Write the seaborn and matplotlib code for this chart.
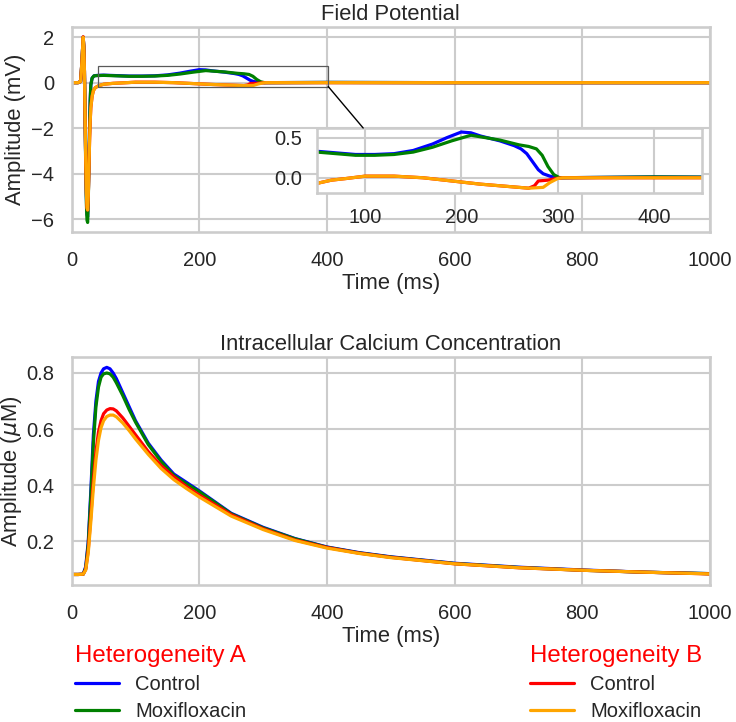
import matplotlib
matplotlib.use("Agg")
import matplotlib.pyplot as plt
from matplotlib.patches import Rectangle, ConnectionPatch
import numpy as np
import seaborn as sns

# ---- field potential traces (ms, mV) ----
fp_t_a = [0, 10, 14, 16, 18, 19, 20, 21, 22, 23, 24, 25, 26, 27, 28, 29, 30, 32, 35, 40,
          50, 70, 90, 110, 130, 150, 170, 185, 200, 210, 220, 240, 255, 262, 268, 274,
          280, 285, 292, 300, 400, 600, 800, 1000]
fp_blue = [0, 0, 0.05, 0.9, 2.0, 1.6, 0.5, -1.5, -3.5, -5.0, -5.8, -5.9, -5.0, -3.5, -2.0, -0.8,
           -0.1, 0.2, 0.3, 0.32, 0.33, 0.31, 0.29, 0.29, 0.3, 0.34, 0.42, 0.5, 0.57, 0.56,
           0.52, 0.46, 0.4, 0.36, 0.3, 0.2, 0.1, 0.05, 0.02, 0.0, 0.01, 0.0, 0.0, 0.0]
fp_t_g = [0, 10, 14, 16, 18, 19, 20, 21, 22, 23, 24, 25, 26, 27, 28, 29, 30, 32, 35, 40,
          50, 70, 90, 110, 130, 150, 170, 190, 210, 220, 240, 260, 270, 278, 284, 290,
          296, 302, 400, 600, 800, 1000]
fp_green = [0, 0, 0.05, 0.9, 2.0, 1.6, 0.5, -1.6, -3.7, -5.3, -6.05, -6.15, -5.2, -3.6, -2.0,
            -0.8, -0.1, 0.2, 0.3, 0.31, 0.32, 0.3, 0.28, 0.28, 0.29, 0.32, 0.38, 0.46, 0.53,
            0.51, 0.47, 0.41, 0.39, 0.36, 0.28, 0.14, 0.04, 0.0, 0.01, 0.0, 0.0, 0.0]
fp_t_b = [0, 10, 14, 16, 18, 19, 20, 21, 22, 23, 24, 25, 26, 27, 28, 29, 30, 32, 34, 37,
          42, 50, 65, 80, 100, 130, 160, 190, 220, 250, 270, 276, 280, 290, 298, 305,
          400, 600, 800, 1000]
fp_red = [0, 0, 0.05, 0.9, 2.02, 1.6, 0.5, -1.5, -3.4, -4.8, -5.5, -5.6, -5.0, -3.8, -2.6,
          -1.7, -1.1, -0.6, -0.35, -0.22, -0.14, -0.07, -0.03, -0.01, 0.02, 0.02, 0.0,
          -0.04, -0.08, -0.11, -0.13, -0.1, -0.04, -0.03, -0.01, 0.0, 0.0, 0.0, 0.0, 0.0]
fp_t_o = [0, 10, 14, 16, 18, 19, 20, 21, 22, 23, 24, 25, 26, 27, 28, 29, 30, 32, 34, 37,
          42, 50, 65, 80, 100, 130, 160, 190, 220, 250, 270, 285, 292, 300, 305,
          400, 600, 800, 1000]
fp_orange = [0, 0, 0.05, 0.9, 2.0, 1.6, 0.5, -1.5, -3.4, -4.8, -5.5, -5.6, -5.0, -3.8, -2.6,
             -1.7, -1.1, -0.6, -0.35, -0.22, -0.14, -0.07, -0.03, -0.01, 0.02, 0.02, 0.0,
             -0.04, -0.08, -0.11, -0.13, -0.12, -0.06, -0.01, 0.0, 0.0, 0.0, 0.0, 0.0]

# ---- calcium transients (ms, uM) ----
ca_t = [0, 10, 18, 22, 26, 30, 34, 38, 42, 46, 50, 55, 60, 65, 70, 80, 90, 100, 120, 140,
        160, 180, 200, 250, 300, 350, 400, 450, 500, 600, 700, 800, 900, 1000]
ca_blue = [0.082, 0.082, 0.083, 0.11, 0.2, 0.38, 0.58, 0.7, 0.77, 0.8, 0.815, 0.82, 0.815,
           0.8, 0.78, 0.73, 0.68, 0.63, 0.55, 0.49, 0.44, 0.41, 0.38, 0.3, 0.25, 0.21, 0.18,
           0.16, 0.145, 0.122, 0.108, 0.098, 0.09, 0.085]
ca_green = [0.082, 0.082, 0.083, 0.105, 0.19, 0.36, 0.55, 0.68, 0.75, 0.785, 0.797, 0.8,
            0.797, 0.785, 0.765, 0.72, 0.67, 0.625, 0.545, 0.485, 0.435, 0.405, 0.377, 0.298,
            0.248, 0.209, 0.179, 0.159, 0.144, 0.121, 0.107, 0.097, 0.09, 0.085]
ca_red = [0.082, 0.082, 0.083, 0.1, 0.17, 0.29, 0.42, 0.52, 0.59, 0.63, 0.655, 0.668, 0.673,
          0.672, 0.665, 0.64, 0.61, 0.58, 0.52, 0.47, 0.43, 0.395, 0.365, 0.295, 0.245,
          0.205, 0.178, 0.158, 0.143, 0.12, 0.106, 0.097, 0.09, 0.084]
ca_orange = [0.082, 0.082, 0.083, 0.098, 0.16, 0.27, 0.39, 0.49, 0.56, 0.605, 0.63, 0.645,
             0.65, 0.65, 0.644, 0.622, 0.595, 0.565, 0.51, 0.46, 0.42, 0.388, 0.358, 0.29,
             0.242, 0.203, 0.176, 0.157, 0.142, 0.12, 0.106, 0.097, 0.09, 0.084]

labels = ["Control", "Moxifloxacin"]

sns.set_theme(context="talk", style="whitegrid", font_scale=0.88)
plt.rcParams["font.family"] = ["Liberation Sans", "DejaVu Sans"]

fig = plt.figure(figsize=(7.36, 7.22), dpi=100)
ax1 = fig.add_axes([0.0974, 0.679, 0.867, 0.283])
ax2 = fig.add_axes([0.0974, 0.19, 0.867, 0.3155])
axin = fig.add_axes([0.4307, 0.7327, 0.523, 0.09])

fp_series = [(fp_t_a, fp_blue, "blue"), (fp_t_g, fp_green, "green"),
             (fp_t_b, fp_red, "red"), (fp_t_o, fp_orange, "orange")]
ca_series = [(ca_blue, "blue"), (ca_green, "green"), (ca_red, "red"), (ca_orange, "orange")]

lw = 2.3
for t, v, c in fp_series:
    sns.lineplot(x=t, y=v, color=c, linewidth=lw, ax=ax1)
    sns.lineplot(x=t, y=v, color=c, linewidth=lw, ax=axin)

handles = []
for v, c in ca_series:
    sns.lineplot(x=ca_t, y=v, color=c, linewidth=lw, ax=ax2)
    handles.append(ax2.lines[-1])

ax1.set_xlim(0, 1000)
ax2.set_xlim(0, 1000)
ax1.set_title("Field Potential", pad=5)
ax2.set_title("Intracellular Calcium Concentration", pad=5)
for ax in (ax1, ax2):
    ax.set_xlabel("Time (ms)", labelpad=2)
    ax.set_xticks([0, 200, 400, 600, 800, 1000])
    ax.tick_params(axis="x", pad=5)
ax1.set_ylabel("Amplitude (mV)", labelpad=4)
ax2.set_ylabel(r"Amplitude ($\mu$M)", labelpad=2)
ax1.set_yticks([-6, -4, -2, 0, 2])
ax2.set_yticks([0.2, 0.4, 0.6, 0.8])

# inset
axin.set_xlim(50, 450)
axin.set_ylim(-0.19, 0.62)
axin.set_xticks([100, 200, 300, 400])
axin.set_yticks([0.0, 0.5])
axin.set_yticklabels(["0.0", "0.5"])
axin.tick_params(pad=2)

ax1.add_patch(Rectangle((41, -0.17), 361, 0.89, fill=False, edgecolor="0.35", linewidth=0.9,
                        zorder=5))
con = ConnectionPatch(xyA=(402, -0.17), coordsA=ax1.transData,
                      xyB=(0.12, 1.0), coordsB=axin.transAxes,
                      color="black", linewidth=1.0, zorder=6)
fig.add_artist(con)

leg_kw = dict(loc="upper left", frameon=False, alignment="left", borderpad=0,
              borderaxespad=0, handlelength=2.2, handletextpad=0.8, labelspacing=0.4,
              fontsize=14.5, title_fontsize=17.3)
leg_a = fig.legend(handles[:2], labels, title="Heterogeneity A",
                   bbox_to_anchor=(0.102, 0.107), **leg_kw)
leg_b = fig.legend(handles[2:], labels, title="Heterogeneity B",
                   bbox_to_anchor=(0.72, 0.107), **leg_kw)
for leg in (leg_a, leg_b):
    leg.get_title().set_color("red")

fig.savefig("out.png", dpi=100)
